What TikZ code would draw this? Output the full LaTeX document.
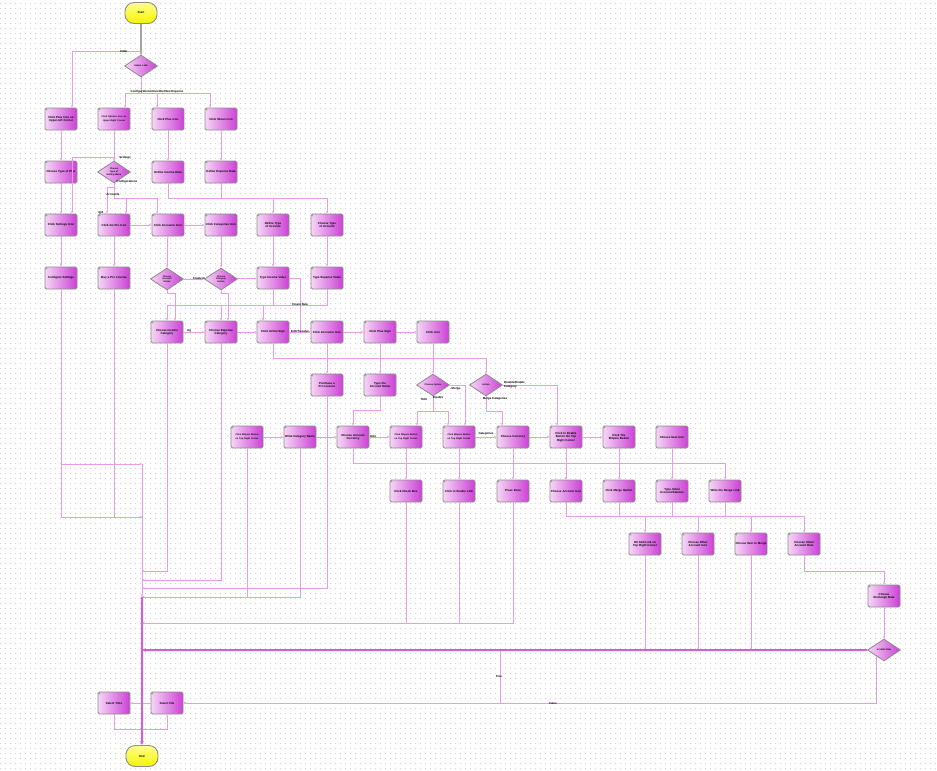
\documentclass[tikz,border=0pt]{standalone}
\usepackage{fontspec}
\setmainfont{Liberation Sans}
\usetikzlibrary{shapes.geometric,arrows.meta,calc}
\definecolor{pl}{RGB}{246,214,246}
\definecolor{pd}{RGB}{204,64,214}
\definecolor{bd}{RGB}{140,140,140}
\definecolor{lk}{RGB}{232,156,232}
\definecolor{tk}{RGB}{214,90,222}
\definecolor{yl1}{RGB}{255,255,140}
\definecolor{yl2}{RGB}{245,245,0}
\definecolor{dotc}{RGB}{208,208,208}
\definecolor{tabc}{RGB}{170,170,170}
\newcommand\tinyf{\fontsize{2.9}{3.4}\selectfont\bfseries\hyphenpenalty=10000\exhyphenpenalty=10000\relax}
\newcommand\tinyd{\fontsize{2.3}{2.7}\selectfont\bfseries\hyphenpenalty=10000\relax}
\begin{document}
\begin{tikzpicture}[x=1pt,y=-1pt,
  proc/.style={rectangle, rounded corners=1.5pt, draw=bd, line width=0.9pt, left color=pl, right color=pd,
    minimum width=32pt, minimum height=22pt, text width=31pt, align=center, inner sep=0.3pt, font=\tinyf,
    path picture={\fill[tabc] (path picture bounding box.north west) rectangle ([xshift=2.5pt,yshift=-2.5pt]path picture bounding box.north west);}},
  dec/.style={diamond, aspect=1.5, draw=bd, line width=0.8pt, left color=pl, right color=pd,
    minimum width=33pt, minimum height=22pt, inner sep=0pt, text width=17pt, align=center, font=\tinyd},
  term/.style={rectangle, rounded corners=9pt, draw=bd, line width=0.9pt, top color=yl1, bottom color=yl2,
    minimum width=32pt, minimum height=21pt, font=\tinyf},
  lbl/.style={font=\tinyf, inner sep=0pt, text=black},
  arr/.style={color=lk, line width=1pt, -{Stealth[length=2.5pt,width=2pt]}},
  trunkl/.style={color=tk, line width=1.8pt, -{Stealth[length=4pt,width=3.5pt]}},
  startl/.style={color=bd!80, line width=1.4pt, -{Stealth[length=3pt,width=3pt]}}
]
\useasboundingbox (0,0) rectangle (937,771);
% background dots
\begin{scope}
\foreach \yy in {3,8,...,771} \draw[dotc, line width=0.6pt, dash pattern=on 0.6pt off 4.4pt] (0,\yy) -- (937,\yy);
\end{scope}
% nodes
\node[term] (start) at (141,13) {Start};
\node[dec] (d1) at (141,66) {Select a tab};
\node[proc] (b1) at (61,119) {Click Plus Icon on Upper-left Corner};
\node[proc] (b2) at (114,119) {\tinyd Click Options Icon on Upper Right Corner};
\node[proc] (b3) at (168,119) {Click Plus Icon};
\node[proc] (b4) at (221,119) {Click Minus Icon};
\node[proc] (c1) at (61,172) {Choose Type of Plan};
\node[dec] (d2) at (114,172) {Choose Type of Setting Menu};
\node[proc] (c3) at (168,172) {Define Income Data};
\node[proc] (c4) at (221,172) {Define Expense Data};
\node[proc] (e1) at (61,225) {Click Settings Icon};
\node[proc] (e2) at (114,225) {Click Go Pro Icon};
\node[proc] (e3) at (168,225) {Click Accounts Icon};
\node[proc] (e4) at (221,225) {Click Categories Icon};
\node[proc] (e5) at (273,225) {Define Type of Account};
\node[proc] (e6) at (327,225) {Choose Type of Account};
\node[proc] (f1) at (61,278) {Configure Settings};
\node[proc] (f2) at (114,278) {Buy a Pro License};
\node[dec] (d3) at (167,279) {Choose Account Action};
\node[dec] (d4) at (221,279) {Choose Category Action};
\node[proc] (f5) at (273,278) {Type Income Value};
\node[proc] (f6) at (327,278) {Type Expense Value};
\node[proc] (g1) at (167,332) {Choose Income Category};
\node[proc] (g2) at (221,332) {Choose Expense Category};
\node[proc] (g3) at (273,332) {Click In/Out Sign};
\node[proc] (g4) at (327,332) {Click Accounts Icon};
\node[proc] (g5) at (380,332) {Click Plus Sign};
\node[proc] (g6) at (433,332) {Click Icon};
\node[proc] (h1) at (327,385) {Purchase a Pro License};
\node[proc] (h2) at (380,385) {Type the Account Name};
\node[dec] (d5) at (433,385) {Choose Option};
\node[dec] (d6) at (486,385) {Action};
\node[proc] (i1) at (247,437) {\tinyd Click Ellipsis Button on Top Right Corner};
\node[proc] (i2) at (300,437) {Write Category Name};
\node[proc] (i3) at (353,437) {Choose Account Currency};
\node[proc] (i4) at (406,437) {\tinyd Click Ellipsis Button on Top Right Corner};
\node[proc] (i5) at (459,437) {\tinyd Click Ellipsis Button on Top Right Corner};
\node[proc] (i6) at (513,437) {Choose Currency};
\node[proc] (i7) at (566,437) {Click to Enable Button On Top Right Corner};
\node[proc] (i8) at (619,437) {Click The Ellipsis Button};
\node[proc] (i9) at (672,437) {Choose New Icon};
\node[proc] (j1) at (406,491) {Click Check Box};
\node[proc] (j2) at (459,491) {Click to Enable Link};
\node[proc] (j3) at (513,491) {Press Done};
\node[proc] (j4) at (566,491) {Choose Account Icon};
\node[proc] (j5) at (619,491) {Click Merge Option};
\node[proc] (j6) at (672,491) {Type Initial Account Balance};
\node[proc] (j7) at (725,491) {Write the Merge Link};
\node[proc] (k1) at (645,544) {Hit Add Link on Top Right Corner};
\node[proc] (k2) at (698,544) {Choose Other Account Icon};
\node[proc] (k3) at (751,544) {Choose Item to Merge};
\node[proc] (k4) at (804,544) {Choose Initial Account Date};
\node[proc] (l1) at (884,596) {Choose Exchange Rate};
\node[dec] (vld) at (884,650) {Is Valid State};
\node[proc] (m1) at (114,703) {Select Time};
\node[proc] (m2) at (167,703) {Select File};
\node[term] (end) at (142,756) {End};
% trunk joins
\coordinate (tG) at (142,464);
\coordinate (tH) at (142,517);
\coordinate (tA) at (142,571);
\coordinate (tB) at (142,580);
\coordinate (tC) at (142,588);
\coordinate (tD) at (142,597);
\coordinate (tE) at (142,623);
\coordinate (tF) at (142,650);
% connectors
\draw[startl] (start) -- (d1);
\draw[arr] (d1.north) |- (72,51) -- ([xshift=11pt]b1.north);
\draw[arr] (d1.south) |- (125,93) -- ([xshift=11pt]b2.north);
\draw[arr] (d1.south) |- (157,93) -- ([xshift=-11pt]b3.north);
\draw[arr] (d1.south) |- (210,93) -- ([xshift=-11pt]b4.north);
\draw[arr] (b1) -- (c1);
\draw[arr] (b2) -- (d2);
\draw[arr] (b3) -- (c3);
\draw[arr] (b4) -- (c4);
\draw[arr] (d2.north) |- (72,157) -- ([xshift=11pt]e1.north);
\draw[arr] (d2.south) -- ++(0,4) -| ([xshift=-7pt]e2.north);
\draw[arr] (d2.south) |- (157,198) -- ([xshift=-11pt]e3.north);
\draw[arr] (d2.south) |- (126,198) -- ([xshift=12pt]e2.north);
\draw[arr] (c1) -- (e1);
\draw[arr] (c3.south) |- (273,198) -- (e5.north);
\draw[arr] (c4.south) |- (327,198) -- (e6.north);
\draw[arr] (e1) -- (f1);
\draw[arr] (e2) -- (f2);
\draw[arr] (e3) -- (d3);
\draw[arr] (e4) -- (d4);
\draw[arr] (e5) -- (f5);
\draw[arr] (e6) -- (f6);
\draw[arr] (e2) -- (e3);
\draw[arr] (e3) -- (e4);
\draw[arr] (d3) -- (d4);
\draw[arr] (d4) -- (f5);
\draw[arr] (f5.east) -- (300,278) |- (g4.west);
\draw[arr] (d3.south) -- ++(0,3) -| ([xshift=8pt]g1.north);
\draw[arr] (d4.south) -- ++(0,3) -| ([xshift=7pt]g2.north);
\draw[arr] (f6.south) |- (167,305) -- (g1.north);
\draw[arr] (f6.south) |- (221,305) -- (g2.north);
\draw[arr] (f5.south) |- (263,305) -- ([xshift=-10pt]g3.north);
\draw[arr] (g1) -- (g2);
\draw[arr] (g2) -- (g3);
\draw[arr] (g3) -- (g4);
\draw[arr] (g4) -- (g5);
\draw[arr] (g5) -- (g6);
\draw[arr] (g1.south) |- (tA);
\draw[arr] (g2.south) |- (tB);
\draw[arr] (h1.south) |- (tC);
\draw[arr] (g3.south) -- (273,358) -| (d6.north);
\draw[arr] (g4) -- (h1);
\draw[arr] (g5) -- (h2);
\draw[arr] (g6) -- (d5);
\draw[arr] (h2.south) |- (353,410) -- (i3.north);
\draw[arr] (d5.south) |- (417,411) -- ([xshift=11pt]i4.north);
\draw[arr] (d5.south) |- (448,411) -- ([xshift=-11pt]i5.north);
\draw[arr] (d5.east) -| ([xshift=6pt]i5.north);
\draw[arr] (d6.south) |- (502,411) -- ([xshift=-11pt]i6.north);
\draw[arr] (d6.east) -| ([xshift=-9pt]i7.north);
\draw[arr] (i1) -- (i2);
\draw[arr] (i2) -- (i3);
\draw[arr] (i3) -- (i4);
\draw[arr] (i5) -- (i6);
\draw[arr] (i6) -- (i7);
\draw[arr] (i7) -- (i8);
\draw[arr] (i4) -- (j1);
\draw[arr] (i5) -- (j2);
\draw[arr] (i6) -- (j3);
\draw[arr] (i7) -- (j4);
\draw[arr] (i8) -- (j5);
\draw[arr] (i9) -- (j6);
\draw[arr] (i3.south) |- (566,463) -- (j4.north);
\draw[arr] (i3.south) |- (725,463) -- (j7.north);
\draw[arr] (j4.south) |- (645,516) -- (k1.north);
\draw[arr] (j5.south) |- (751,516) -- (k3.north);
\draw[arr] (j6.south) |- (804,516) -- (k4.north);
\draw[arr] (j7.south) |- (698,516) -- (k2.north);
\draw[arr] (i1.south) |- (tD);
\draw[arr] (i2.south) |- (tD);
\draw[arr] (j1.south) |- (tE);
\draw[arr] (j2.south) |- (tE);
\draw[arr] (j3.south) |- (tE);
\draw[arr] (k1.south) -- (k1.south |- vld.west);
\draw[arr] (k2.south) -- (k2.south |- vld.west);
\draw[arr] (k3.south) -- (k3.south |- vld.west);
\draw[arr] (k4.south) -- (804,571) -| (l1.north);
\draw[arr] (l1) -- (vld);
\draw[arr] ([xshift=-8pt,yshift=5pt]vld.south) |- (m2.east);
\draw[arr] (vld.west) -| (500,703) -- (m2.east);
\draw[trunkl] (vld.west) -- (tF);
\draw[arr] (m2) -- (m1);
\draw[arr] (m1.south) -- (114,729) -| (m2.south);
\draw[arr] (f1.south) |- (tG);
\draw[arr] (f1.south) |- (tH);
\draw[arr] (f2.south) |- (tH);
\draw[arr] (tG) -- (tD);
\draw[trunkl] (tD) -- (end.north);
% labels
\node[lbl] (lFilter) at (124,51) {Filter};
\node[lbl] (lCfg) at (157,92) {Configurations/Invisible/New Expense};
\node[lbl] (lSet) at (125,158) {Settings};
\node[lbl] (lConf) at (127,182) {Configurations};
\node[lbl] (lAcc) at (113,195) {Accounts};
\node[lbl] (lQA) at (101,213) {Q/A};
\node[lbl] (lCreateIn) at (199,278) {Create In};
\node[lbl] (lCreateNew) at (300,304) {Create New};
\node[lbl] (lIng) at (189,331) {ing};
\node[lbl] (lEditT) at (300,331) {Edit/Transfer};
\node[lbl] (lEdit2) at (424,399) {Edit};
\node[lbl] (lDis) at (438,397) {Disable};
\node[lbl] (lMerge) at (456,389) {Merge};
\node[lbl, anchor=west, align=left] (lDE) at (504,385) {Disable/Enable\\[0.6pt]Category};
\node[lbl] (lMC) at (495,399) {Merge Categories};
\node[lbl] (lEdit3) at (373,436) {Edit};
\node[lbl] (lCat) at (486,434) {Categories};
\node[lbl] (lTrue) at (499,677) {True};
\node[lbl] (lFalse) at (553,703) {False};
\end{tikzpicture}
\end{document}
